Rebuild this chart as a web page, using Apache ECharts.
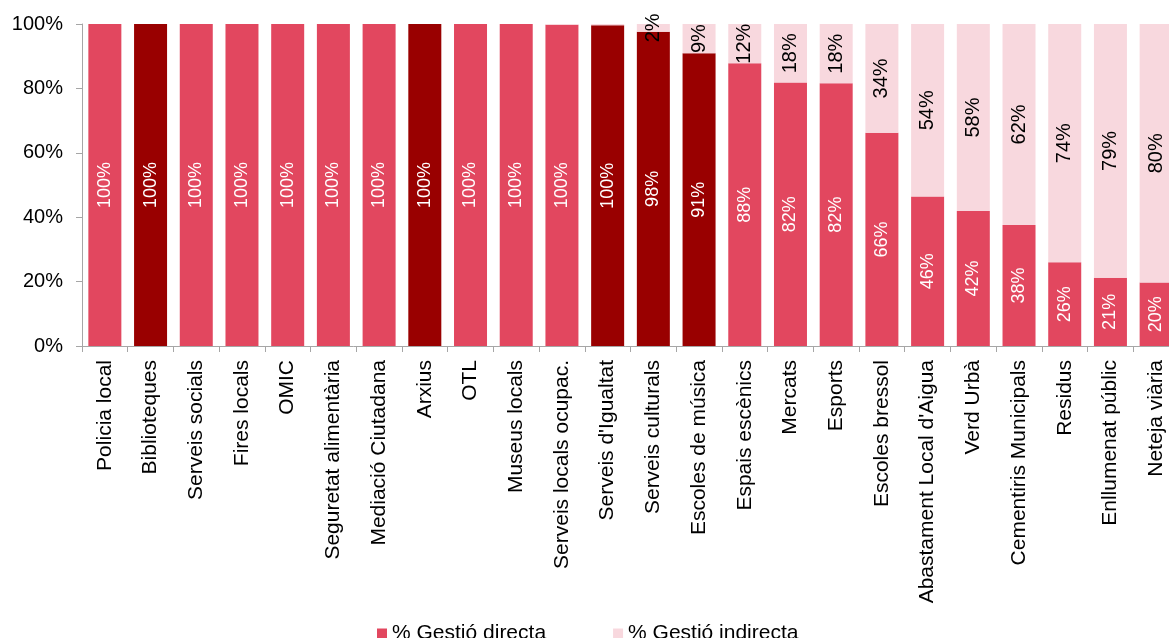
<!DOCTYPE html>
<html>
<head>
<meta charset="utf-8">
<script src="https://cdn.jsdelivr.net/npm/echarts@6/dist/echarts.min.js"></script>
<style>
html,body{margin:0;padding:0;background:#fff;}
#main{width:1169px;height:638px;}
</style>
</head>
<body>
<div id="main"></div>
<script>
const categories = ["Policia local","Biblioteques","Serveis socials","Fires locals","OMIC","Seguretat alimentària","Mediació Ciutadana","Arxius","OTL","Museus locals","Serveis locals ocupac.","Serveis d'Igualtat","Serveis culturals","Escoles de música","Espais escènics","Mercats","Esports","Escoles bressol","Abastament Local d'Aigua","Verd Urbà","Cementiris Municipals","Residus","Enllumenat públic","Neteja viària"];
const directa = [100,100,100,100,100,100,100,100,100,100,99.8,99.6,97.6,90.9,87.8,81.8,81.6,66.2,46.4,41.9,37.6,26,21.2,19.7];
const indirecta = [0,0,0,0,0,0,0,0,0,0,0.2,0.4,2.4,9.1,12.2,18.2,18.4,33.8,53.6,58.1,62.4,74,78.8,80.3];
const darkCategories = ["Biblioteques","Arxius","Serveis d'Igualtat","Serveis culturals","Escoles de música"];
const seriesNames = ["% Gestió directa","% Gestió indirecta"];
const yTicks = [0,20,40,60,80,100];

const COL_DIR = '#E2475F', COL_DARK = '#990000', COL_IND = '#F8D8DE';
const FONT = '"Liberation Sans", Arial, sans-serif';

const chart = echarts.init(document.getElementById('main'));
const fmt = p => (p.value < 1 ? '' : Math.round(p.value) + '%');
chart.setOption({
  animation: false,
  textStyle: {fontFamily: FONT},
  grid: {left: 82, top: 24, width: 1097, height: 322, containLabel: false, outerBoundsMode: 'none'},
  legend: {
    top: 623, left: 377, padding: 0,
    itemWidth: 10, itemHeight: 10, itemGap: 67,
    icon: 'rect',
    textStyle: {fontSize: 21, color: '#000', fontFamily: FONT},
    data: seriesNames
  },
  xAxis: {
    type: 'category', data: categories,
    axisLine: {lineStyle: {color: '#A6A6A6', width: 1}},
    axisTick: {show: true, length: 6, alignWithLabel: false, lineStyle: {color: '#A6A6A6'}},
    axisLabel: {rotate: 90, fontSize: 21, color: '#000', margin: 14, interval: 0, fontFamily: FONT}
  },
  yAxis: {
    type: 'value', min: yTicks[0], max: yTicks[yTicks.length-1], interval: 20,
    splitLine: {show: false},
    axisLine: {show: true, lineStyle: {color: '#A6A6A6'}},
    axisTick: {show: true, length: 6, lineStyle: {color: '#A6A6A6'}},
    axisLabel: {formatter: '{value}%', fontSize: 20, color: '#000', margin: 19, fontFamily: FONT}
  },
  series: [
    {
      name: seriesNames[0], type: 'bar', stack: 'total', barWidth: 33,
      itemStyle: {color: COL_DIR},
      data: directa.map((v, i) => ({value: v, itemStyle: {color: darkCategories.includes(categories[i]) ? COL_DARK : COL_DIR}})),
      label: {show: true, position: 'inside', rotate: 90, color: '#fff', fontSize: 18, fontFamily: FONT, formatter: fmt}
    },
    {
      name: seriesNames[1], type: 'bar', stack: 'total', barWidth: 33,
      itemStyle: {color: COL_IND},
      data: indirecta,
      label: {show: true, position: 'inside', rotate: 90, color: '#000', fontSize: 20, fontFamily: FONT, formatter: fmt}
    }
  ]
});
</script>
</body>
</html>
